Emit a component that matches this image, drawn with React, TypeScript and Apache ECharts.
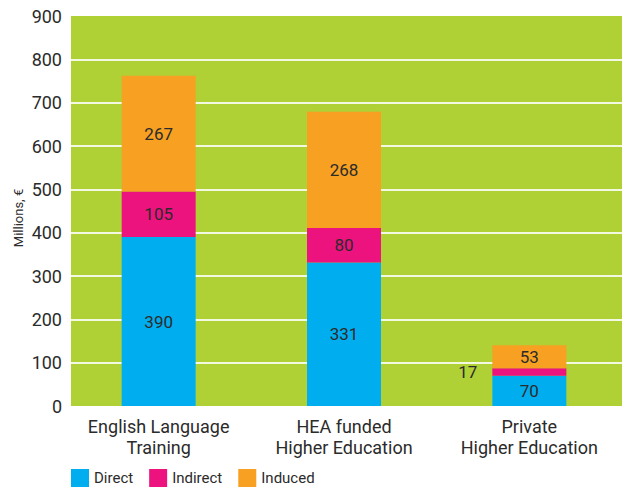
import React, { useEffect, useRef } from "react";
import * as echarts from "echarts";

const categories = ["English Language\nTraining", "HEA funded\nHigher Education", "Private\nHigher Education"];
const direct = [390, 331, 70];
const indirect = [105, 80, 17];
const induced = [267, 268, 53];
const yTicks = { min: 0, max: 900, interval: 100 };
const yAxisTitle = "Millions, €";

const FONT = "Roboto";
const TXT = "#2b2b2b";

export default function App() {
  const ref = useRef<HTMLDivElement>(null);
  useEffect(() => {
    if (!ref.current) return;
    const chart = echarts.init(ref.current, null, { renderer: "svg" });
    const labelBase = {
      show: true,
      position: "inside" as const,
      color: TXT,
      fontSize: 17,
      fontFamily: FONT,
    };
    chart.setOption({
      animation: false,
      textStyle: { fontFamily: FONT },
      grid: { left: 66, right: 0, top: 16, bottom: 83, containLabel: false },
      graphic: [
        {
          type: "rect",
          z: -10,
          zlevel: 0,
          silent: true,
          shape: { x: 71, y: 16, width: 551, height: 390 },
          style: { fill: "#AFD136" },
        },
        {
          type: "text",
          x: 18,
          y: 218,
          rotation: Math.PI / 2,
          silent: true,
          style: {
            text: yAxisTitle,
            fill: TXT,
            fontSize: 13,
            fontFamily: FONT,
            align: "center",
            verticalAlign: "middle",
          },
        },
      ],
      legend: {
        left: 71,
        top: 469,
        padding: 0,
        itemWidth: 18,
        itemHeight: 18,
        itemGap: 16,
        icon: "rect",
        textStyle: { color: TXT, fontSize: 15, fontFamily: FONT },
        data: ["Direct", "Indirect", "Induced"],
      },
      xAxis: {
        type: "category",
        data: categories,
        axisLine: { show: false },
        axisTick: { show: false },
        axisLabel: { color: TXT, fontSize: 18, fontFamily: FONT, lineHeight: 21, margin: 10 },
      },
      yAxis: {
        type: "value",
        min: yTicks.min,
        max: yTicks.max,
        interval: yTicks.interval,
        axisLine: { show: false },
        axisTick: { show: false },
        axisLabel: { color: TXT, fontSize: 18, fontFamily: FONT, margin: 4 },
        splitLine: {
          show: true,
          showMinLine: false,
          showMaxLine: false,
          lineStyle: { color: "rgba(255,255,255,0.85)", width: 2 },
        },
      },
      series: [
        {
          name: "Direct",
          type: "bar",
          stack: "total",
          barWidth: 74,
          itemStyle: { color: "#00AEEF" },
          label: labelBase,
          data: direct,
        },
        {
          name: "Indirect",
          type: "bar",
          stack: "total",
          barWidth: 74,
          itemStyle: { color: "#EC137F" },
          label: labelBase,
          data: indirect.map((v, i) =>
            i === 2 ? { value: v, label: { position: "left", distance: 15 } } : v
          ),
        },
        {
          name: "Induced",
          type: "bar",
          stack: "total",
          barWidth: 74,
          itemStyle: { color: "#F7A021" },
          label: labelBase,
          data: induced,
        },
      ],
    });
    return () => chart.dispose();
  }, []);
  return <div ref={ref} style={{ width: 622, height: 489, position: "absolute", left: 0, top: 0 }} />;
}
